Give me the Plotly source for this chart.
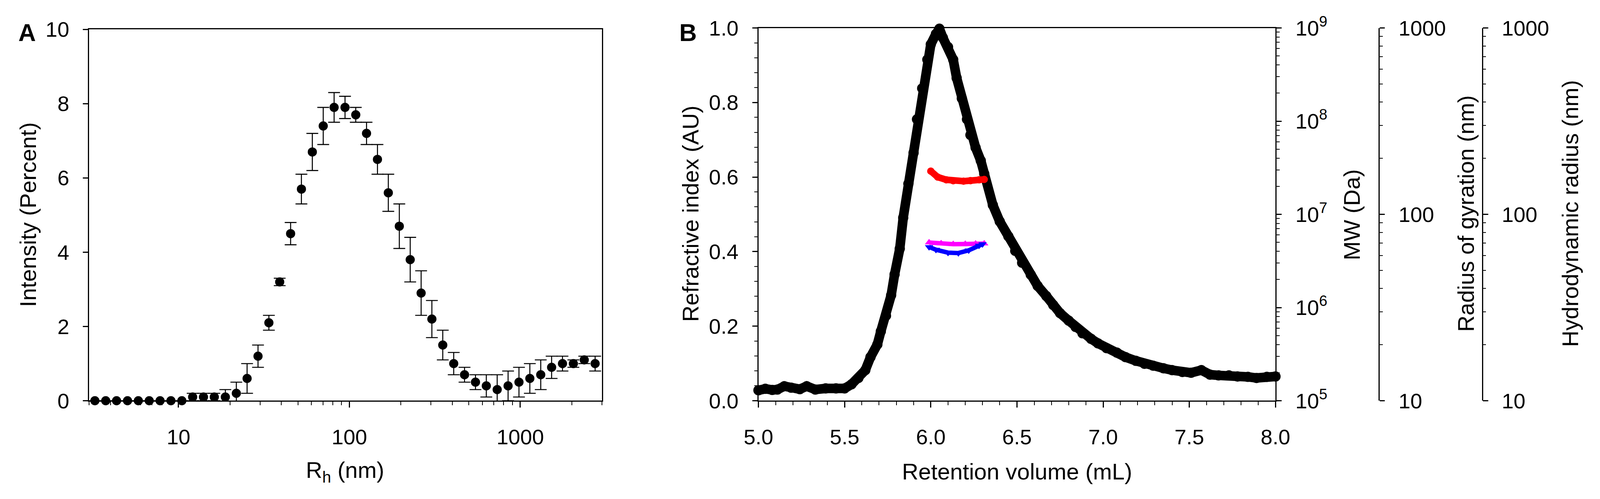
import plotly.graph_objects as go

# the browser viewport comes out about 4096 x 1277 css px; the layout below is
# written in reference pixels (4610 x 1277) and mapped onto it
REF_W, REF_H = 4610, 1277
SX = 4096 / REF_W
FW, FH = 4096 - 16, 1277 - 16
FS = 0.94  # size factor for text and markers
FONT = "Arial, Liberation Sans, sans-serif"

# ---- panel A: DLS intensity distribution ----
rh_nm = [3.24, 3.75, 4.34, 5.03, 5.82, 6.74, 7.80, 9.03, 10.46, 12.1, 14.0, 16.2,
         18.8, 21.8, 25.2, 29.2, 33.8, 39.1, 45.3, 52.4, 60.7, 70.3, 81.4, 94.3,
         109, 126, 146, 169, 196, 227, 263, 304, 352, 408, 472, 547, 633, 733,
         849, 983, 1138, 1318, 1526, 1767, 2046, 2369, 2743]
intensity = [0, 0, 0, 0, 0, 0, 0, 0, 0, 0.1, 0.1, 0.1,
             0.1, 0.2, 0.6, 1.2, 2.1, 3.2, 4.5, 5.7, 6.7, 7.4, 7.9, 7.9,
             7.7, 7.2, 6.5, 5.6, 4.7, 3.8, 2.9, 2.2, 1.5, 1.0, 0.7, 0.5, 0.4, 0.3,
             0.4, 0.5, 0.6, 0.7, 0.9, 1.0, 1.0, 1.1, 1.0]
intensity_err = [0, 0, 0, 0, 0, 0, 0, 0, 0, 0.1, 0.1, 0.1,
                 0.2, 0.3, 0.4, 0.3, 0.2, 0.1, 0.3, 0.4, 0.5, 0.5, 0.4, 0.3,
                 0.2, 0.3, 0.4, 0.5, 0.6, 0.6, 0.6, 0.5, 0.4, 0.3, 0.2, 0.2, 0.3, 0.4,
                 0.4, 0.4, 0.4, 0.4, 0.3, 0.2, 0.1, 0.1, 0.2]

# ---- panel B: SEC-MALS ----
ri_vol = [5.00, 5.04, 5.08, 5.11, 5.15, 5.19, 5.24, 5.28, 5.33, 5.39, 5.45, 5.50,
          5.54, 5.58, 5.62, 5.65, 5.69, 5.71, 5.74, 5.77, 5.79, 5.82, 5.84, 5.87,
          5.90, 5.92, 5.95, 5.98, 6.00, 6.03, 6.05, 6.07, 6.10, 6.13, 6.15, 6.18,
          6.21, 6.23, 6.26, 6.29, 6.31, 6.36, 6.40, 6.45, 6.49, 6.53, 6.58, 6.62,
          6.67, 6.71, 6.75, 6.80, 6.84, 6.88, 6.93, 6.97, 7.02, 7.08, 7.13, 7.19,
          7.24, 7.29, 7.35, 7.40, 7.46, 7.51, 7.57, 7.62, 7.67, 7.73, 7.78, 7.84,
          7.89, 7.95, 8.00]
ri = [0.028, 0.032, 0.029, 0.030, 0.039, 0.035, 0.031, 0.039, 0.030, 0.033, 0.033, 0.033,
      0.044, 0.061, 0.082, 0.117, 0.151, 0.186, 0.228, 0.283, 0.339, 0.408, 0.491, 0.582,
      0.665, 0.755, 0.838, 0.915, 0.956, 0.984, 0.998, 0.974, 0.949, 0.915, 0.866, 0.811,
      0.755, 0.713, 0.679, 0.644, 0.609, 0.525, 0.481, 0.441, 0.402, 0.370, 0.338, 0.308,
      0.281, 0.257, 0.235, 0.215, 0.198, 0.181, 0.166, 0.154, 0.141, 0.129, 0.117, 0.107,
      0.099, 0.094, 0.087, 0.082, 0.077, 0.075, 0.082, 0.070, 0.068, 0.068, 0.065, 0.064,
      0.061, 0.064, 0.065]

mw_vol = [6.00, 6.04, 6.09, 6.13, 6.19, 6.23, 6.28, 6.31]
mw_da = [2.91e7, 2.51e7, 2.35e7, 2.29e7, 2.27e7, 2.30e7, 2.35e7, 2.37e7]

rg_vol = [5.99, 6.06, 6.13, 6.20, 6.26, 6.31]
rg_nm = [70.6, 69.8, 69.2, 69.3, 69.6, 69.7]

rh_vol = [5.99, 6.03, 6.10, 6.16, 6.22, 6.28, 6.30]
rh_sec_nm = [66.8, 64.6, 62.3, 62.0, 64.1, 68.0, 69.2]


def sz(v):
    return v * FS


def fx(ref_x):
    return (ref_x * SX - 8) / FW


def fy(ref_y):
    return 1 - (ref_y - 8) / FH


fig = go.Figure()

fig.add_trace(go.Scatter(
    x=rh_nm, y=intensity, mode="markers", xaxis="x", yaxis="y",
    marker=dict(color="black", size=sz(25)),
    error_y=dict(type="data", array=intensity_err, color="black",
                 thickness=2.6, width=17 * SX),
    cliponaxis=False, showlegend=False))

fig.add_trace(go.Scatter(
    x=ri_vol, y=ri, mode="lines+markers", xaxis="x2", yaxis="y2",
    line=dict(color="black", width=sz(26)), marker=dict(color="black", size=sz(28)),
    cliponaxis=False, showlegend=False))
fig.add_trace(go.Scatter(
    x=mw_vol, y=mw_da, mode="lines+markers", xaxis="x2", yaxis="y3",
    line=dict(color="red", width=sz(18)), marker=dict(color="red", size=sz(20)),
    showlegend=False))
fig.add_trace(go.Scatter(
    x=rg_vol, y=rg_nm, mode="lines+markers", xaxis="x2", yaxis="y4",
    line=dict(color="magenta", width=sz(12)),
    marker=dict(color="magenta", size=sz(20), symbol="triangle-up"),
    showlegend=False))
fig.add_trace(go.Scatter(
    x=rh_vol, y=rh_sec_nm, mode="lines+markers", xaxis="x2", yaxis="y5",
    line=dict(color="blue", width=sz(12)),
    marker=dict(color="blue", size=sz(20), symbol="triangle-down"),
    showlegend=False))

base = dict(showline=True, linecolor="black", linewidth=2.5, ticks="outside",
            tickcolor="black", tickwidth=2.5, showgrid=False, zeroline=False,
            tickfont=dict(size=sz(58), color="black", family=FONT),
            ticklabeloverflow="allow")
xax = dict(base, ticklen=15, ticklabelstandoff=28)
yax = dict(base, ticklen=15 * SX, ticklabelstandoff=24)


def xminor(**kw):
    return dict(ticks="outside", ticklen=9, tickwidth=2, tickcolor="black", **kw)


def yminor(**kw):
    return dict(ticks="outside", ticklen=9 * SX, tickwidth=2, tickcolor="black", **kw)


minor_log = [3, 4, 5, 6, 7, 8, 9, 20, 30, 40, 50, 60, 70, 80, 90,
             200, 300, 400, 500, 600, 700, 800, 900, 2000, 3000]
dom_a_y = [fy(1044), fy(38)]
dom_b_y = [fy(1044), fy(34)]

fig.update_layout(
    width=FW, height=FH, margin=dict(l=0, r=0, t=0, b=0),
    paper_bgcolor="white", plot_bgcolor="white",
    font=dict(family=FONT, color="black"),
    xaxis=dict(xax, type="log", range=[0.4771, 3.4771], domain=[fx(218), fx(1723)],
               anchor="y", mirror=True, tickvals=[10, 100, 1000], ticktext=["10", "100", "1000"],
               minor=xminor(tickvals=minor_log)),
    yaxis=dict(yax, range=[0, 10], dtick=2, domain=dom_a_y, anchor="x", mirror=True),
    xaxis2=dict(xax, range=[5, 8], dtick=0.5, tickformat=".1f",
                domain=[fx(2183), fx(3701)], anchor="y2", mirror=True,
                minor=xminor(dtick=0.1)),
    yaxis2=dict(yax, range=[0, 1], dtick=0.2, tickformat=".1f",
                domain=dom_b_y, anchor="x2", minor=yminor(dtick=0.04)),
    yaxis3=dict(yax, type="log", range=[5, 9], overlaying="y2", side="right",
                anchor="x2", tickvals=[1e5, 1e6, 1e7, 1e8, 1e9],
                ticktext=["10<sup>5</sup>", "10<sup>6</sup>", "10<sup>7</sup>",
                          "10<sup>8</sup>", "10<sup>9</sup>"],
                minor=yminor(dtick="D1")),
    yaxis4=dict(yax, type="log", range=[1, 3], overlaying="y2", side="right",
                anchor="free", position=fx(4005), tickvals=[10, 100, 1000],
                ticktext=["10", "100", "1000"], minor=yminor(dtick="D1")),
    yaxis5=dict(yax, type="log", range=[1, 3], overlaying="y2", side="right",
                anchor="free", position=fx(4308), tickvals=[10, 100, 1000],
                ticktext=["10", "100", "1000"], minor=yminor(dtick="D1")),
)

title_font = dict(size=sz(62), color="black", family=FONT)
letter_font = dict(size=sz(66), color="black", family=FONT)
# text, x, y (reference px), angle, yanchor, font
notes = [
    ("<b>A</b>", 36, 8, 0, "top", letter_font),
    ("<b>B</b>", 1977, 8, 0, "top", letter_font),
    ("Intensity (Percent)", 38, 540, -90, "middle", title_font),
    ("R<sub>h</sub> (nm)", 970, 1236, 0, "middle", title_font),
    ("Refractive index (AU)", 1984, 537, -90, "middle", title_font),
    ("Retention volume (mL)", 2942, 1236, 0, "middle", title_font),
    ("MW (Da)", 3925, 540, -90, "middle", title_font),
    ("Radius of gyration (nm)", 4260, 537, -90, "middle", title_font),
    ("Hydrodynamic radius (nm)", 4566, 537, -90, "middle", title_font),
]
for text, x, y, angle, yanchor, f in notes:
    fig.add_annotation(text=text, xref="paper", yref="paper", x=fx(x), y=fy(y),
                       xanchor="center", yanchor=yanchor, textangle=angle,
                       showarrow=False, font=f)

fig.write_html("out.html")
